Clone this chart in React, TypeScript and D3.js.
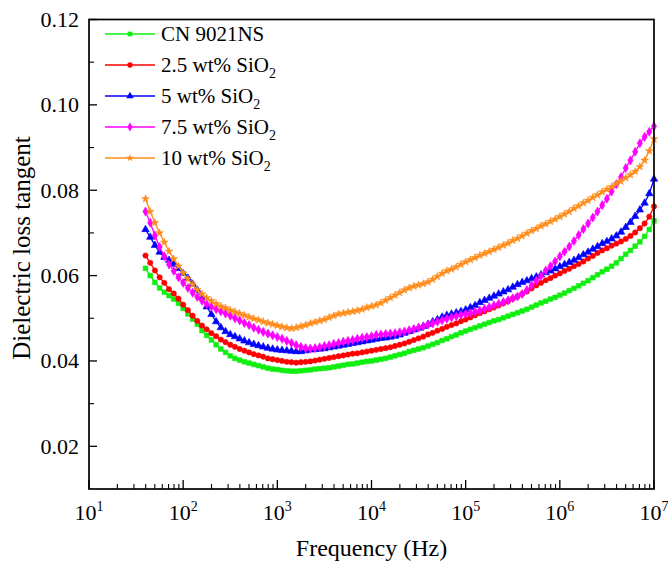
import React from "react";
import * as d3 from "d3";

const logFreq = [
  1.6, 1.65, 1.7, 1.75, 1.8, 1.85, 1.9, 1.95, 2.0, 2.05, 2.1, 2.15, 2.2, 2.25, 2.3, 2.35, 2.4, 2.45, 2.5, 2.55,
  2.6, 2.65, 2.7, 2.75, 2.8, 2.85, 2.9, 2.95, 3.0, 3.05, 3.1, 3.15, 3.2, 3.25, 3.3, 3.35, 3.4, 3.45, 3.5, 3.55,
  3.6, 3.65, 3.7, 3.75, 3.8, 3.85, 3.9, 3.95, 4.0, 4.05, 4.1, 4.15, 4.2, 4.25, 4.3, 4.35, 4.4, 4.45, 4.5, 4.55,
  4.6, 4.65, 4.7, 4.75, 4.8, 4.85, 4.9, 4.95, 5.0, 5.05, 5.1, 5.15, 5.2, 5.25, 5.3, 5.35, 5.4, 5.45, 5.5, 5.55,
  5.6, 5.65, 5.7, 5.75, 5.8, 5.85, 5.9, 5.95, 6.0, 6.05, 6.1, 6.15, 6.2, 6.25, 6.3, 6.35, 6.4, 6.45, 6.5, 6.55,
  6.6, 6.65, 6.7, 6.75, 6.8, 6.85, 6.9, 6.95, 7.0,
];

const cn9021 = [
  0.0617, 0.0600, 0.0584, 0.0571, 0.0561, 0.0553, 0.0545, 0.0535, 0.0523, 0.0510, 0.0498, 0.0486, 0.0471, 0.0460, 0.0449, 0.0438, 0.0428, 0.0420, 0.0412, 0.0406,
  0.0402, 0.0398, 0.0395, 0.0392, 0.0389, 0.0386, 0.0383, 0.0381, 0.0380, 0.0378, 0.0377, 0.0376, 0.0376, 0.0377, 0.0378, 0.0379, 0.0381, 0.0382, 0.0383, 0.0384,
  0.0386, 0.0388, 0.0390, 0.0392, 0.0393, 0.0395, 0.0397, 0.0399, 0.0400, 0.0402, 0.0404, 0.0406, 0.0409, 0.0412, 0.0415, 0.0418, 0.0422, 0.0425, 0.0428, 0.0431,
  0.0435, 0.0439, 0.0443, 0.0448, 0.0452, 0.0457, 0.0461, 0.0466, 0.0470, 0.0474, 0.0478, 0.0482, 0.0486, 0.0490, 0.0494, 0.0497, 0.0501, 0.0505, 0.0509, 0.0513,
  0.0517, 0.0521, 0.0526, 0.0531, 0.0536, 0.0540, 0.0545, 0.0549, 0.0554, 0.0559, 0.0565, 0.0570, 0.0576, 0.0582, 0.0588, 0.0595, 0.0602, 0.0609, 0.0615, 0.0622,
  0.0630, 0.0640, 0.0650, 0.0659, 0.0669, 0.0679, 0.0692, 0.0708, 0.0728,
];

const sio2_25 = [
  0.0647, 0.0630, 0.0612, 0.0596, 0.0583, 0.0568, 0.0558, 0.0546, 0.0532, 0.0519, 0.0506, 0.0494, 0.0483, 0.0474, 0.0465, 0.0458, 0.0450, 0.0444, 0.0438, 0.0433,
  0.0428, 0.0424, 0.0420, 0.0416, 0.0413, 0.0410, 0.0406, 0.0404, 0.0402, 0.0400, 0.0398, 0.0397, 0.0396, 0.0397, 0.0398, 0.0399, 0.0401, 0.0403, 0.0405, 0.0407,
  0.0409, 0.0411, 0.0413, 0.0415, 0.0417, 0.0418, 0.0420, 0.0422, 0.0424, 0.0426, 0.0428, 0.0430, 0.0432, 0.0435, 0.0438, 0.0441, 0.0445, 0.0449, 0.0453, 0.0457,
  0.0462, 0.0466, 0.0471, 0.0475, 0.0480, 0.0484, 0.0488, 0.0493, 0.0497, 0.0502, 0.0507, 0.0512, 0.0516, 0.0521, 0.0525, 0.0530, 0.0535, 0.0540, 0.0546, 0.0551,
  0.0557, 0.0563, 0.0570, 0.0577, 0.0583, 0.0589, 0.0594, 0.0600, 0.0605, 0.0611, 0.0616, 0.0622, 0.0627, 0.0633, 0.0640, 0.0646, 0.0653, 0.0659, 0.0664, 0.0670,
  0.0675, 0.0680, 0.0686, 0.0693, 0.0701, 0.0711, 0.0722, 0.0738, 0.0762,
];

const sio2_5 = [
  0.0708, 0.0690, 0.0671, 0.0655, 0.0643, 0.0636, 0.0627, 0.0617, 0.0605, 0.0594, 0.0580, 0.0566, 0.0549, 0.0527, 0.0509, 0.0492, 0.0478, 0.0469, 0.0462, 0.0457,
  0.0452, 0.0447, 0.0443, 0.0439, 0.0436, 0.0433, 0.0430, 0.0428, 0.0426, 0.0425, 0.0424, 0.0423, 0.0422, 0.0422, 0.0424, 0.0426, 0.0427, 0.0428, 0.0429, 0.0431,
  0.0433, 0.0435, 0.0437, 0.0439, 0.0441, 0.0443, 0.0445, 0.0447, 0.0449, 0.0451, 0.0453, 0.0454, 0.0456, 0.0458, 0.0461, 0.0465, 0.0469, 0.0473, 0.0477, 0.0481,
  0.0486, 0.0492, 0.0497, 0.0503, 0.0507, 0.0510, 0.0513, 0.0516, 0.0520, 0.0525, 0.0530, 0.0537, 0.0542, 0.0547, 0.0552, 0.0557, 0.0562, 0.0567, 0.0573, 0.0579,
  0.0584, 0.0588, 0.0593, 0.0597, 0.0602, 0.0607, 0.0611, 0.0616, 0.0621, 0.0626, 0.0631, 0.0636, 0.0642, 0.0649, 0.0655, 0.0662, 0.0668, 0.0675, 0.0680, 0.0686,
  0.0693, 0.0702, 0.0713, 0.0725, 0.0739, 0.0754, 0.0770, 0.0792, 0.0826,
];

const sio2_75 = [
  0.0750, 0.0724, 0.0694, 0.0667, 0.0645, 0.0626, 0.0611, 0.0596, 0.0583, 0.0571, 0.0560, 0.0550, 0.0541, 0.0533, 0.0527, 0.0521, 0.0516, 0.0511, 0.0506, 0.0500,
  0.0495, 0.0489, 0.0484, 0.0478, 0.0473, 0.0468, 0.0464, 0.0460, 0.0456, 0.0452, 0.0447, 0.0442, 0.0437, 0.0433, 0.0430, 0.0429, 0.0430, 0.0432, 0.0435, 0.0437,
  0.0440, 0.0442, 0.0445, 0.0447, 0.0449, 0.0452, 0.0454, 0.0456, 0.0458, 0.0461, 0.0462, 0.0463, 0.0464, 0.0465, 0.0467, 0.0469, 0.0472, 0.0475, 0.0478, 0.0481,
  0.0485, 0.0488, 0.0492, 0.0495, 0.0499, 0.0502, 0.0505, 0.0508, 0.0510, 0.0512, 0.0515, 0.0518, 0.0522, 0.0526, 0.0530, 0.0534, 0.0538, 0.0542, 0.0547, 0.0551,
  0.0557, 0.0566, 0.0577, 0.0588, 0.0599, 0.0612, 0.0622, 0.0633, 0.0645, 0.0656, 0.0668, 0.0681, 0.0695, 0.0709, 0.0722, 0.0736, 0.0750, 0.0765, 0.0780, 0.0797,
  0.0814, 0.0831, 0.0852, 0.0870, 0.0890, 0.0910, 0.0925, 0.0937, 0.0950,
];

const sio2_10 = [
  0.0780, 0.0750, 0.0724, 0.0700, 0.0678, 0.0657, 0.0639, 0.0622, 0.0606, 0.0592, 0.0579, 0.0567, 0.0557, 0.0548, 0.0541, 0.0534, 0.0528, 0.0524, 0.0519, 0.0515,
  0.0511, 0.0507, 0.0503, 0.0499, 0.0496, 0.0492, 0.0489, 0.0486, 0.0483, 0.0480, 0.0478, 0.0476, 0.0478, 0.0481, 0.0484, 0.0488, 0.0491, 0.0494, 0.0497, 0.0502,
  0.0506, 0.0510, 0.0512, 0.0514, 0.0516, 0.0518, 0.0521, 0.0525, 0.0528, 0.0531, 0.0536, 0.0542, 0.0548, 0.0554, 0.0560, 0.0566, 0.0571, 0.0575, 0.0578, 0.0581,
  0.0585, 0.0591, 0.0598, 0.0605, 0.0611, 0.0615, 0.0620, 0.0626, 0.0632, 0.0637, 0.0642, 0.0647, 0.0652, 0.0656, 0.0661, 0.0666, 0.0671, 0.0676, 0.0682, 0.0687,
  0.0693, 0.0699, 0.0705, 0.0710, 0.0716, 0.0721, 0.0727, 0.0732, 0.0738, 0.0744, 0.0750, 0.0757, 0.0763, 0.0770, 0.0776, 0.0783, 0.0789, 0.0796, 0.0802, 0.0808,
  0.0815, 0.0821, 0.0829, 0.0836, 0.0844, 0.0855, 0.0870, 0.0892, 0.0920,
];

const seriesNames = ["CN 9021NS", "2.5 wt% SiO", "5 wt% SiO", "7.5 wt% SiO", "10 wt% SiO"];
const seriesSub = ["", "2", "2", "2", "2"];
const seriesColors = ["#10ee10", "#ff0000", "#0000ff", "#ff00ff", "#ff8c1a"];
const seriesValues = [cn9021, sio2_25, sio2_5, sio2_75, sio2_10];
const seriesSymbols = [d3.symbolSquare, d3.symbolCircle, d3.symbolTriangle, d3.symbolDiamond, d3.symbolStar];
const seriesSymbolSize = [22, 22, 24, 24, 18];

const yTicks = [0.02, 0.04, 0.06, 0.08, 0.1, 0.12];
const yTickLabels = ["0.02", "0.04", "0.06", "0.08", "0.10", "0.12"];
const xDecades = [1, 2, 3, 4, 5, 6, 7];

const W = 668;
const H = 561;
const M = { left: 89, right: 654, top: 19.5, bottom: 489 };
const FONT = "Liberation Serif, Times New Roman, DejaVu Serif, serif";
const TS = { fontFamily: FONT };

export default function App() {
  const x = d3.scaleLog().domain([10, 1e7]).range([M.left, M.right]);
  const y = d3.scaleLinear().domain([0.01, 0.12]).range([M.bottom, M.top]);

  const line = d3
    .line<[number, number]>()
    .x((d) => x(d[0]))
    .y((d) => y(d[1]));

  const minorX: number[] = [];
  for (let e = 1; e < 7; e++) {
    for (let k = 2; k <= 9; k++) minorX.push(k * Math.pow(10, e));
  }
  const minorY = d3.range(0.03, 0.12, 0.02);

  const freqs = logFreq.map((l) => Math.pow(10, l));

  return (
    <svg
      width={W}
      height={H}
      style={{ position: "absolute", left: 0, top: 0, background: "#fff", fontFamily: FONT }}
    >
      <rect x={0} y={0} width={W} height={H} fill="#fff" />
      {seriesValues.map((vals, si) => {
        const pts: [number, number][] = vals.map((v, i) => [freqs[i], v]);
        const sym = d3.symbol().type(seriesSymbols[si]).size(seriesSymbolSize[si]);
        const p = sym() as string;
        return (
          <g key={si}>
            <path d={line(pts) as string} fill="none" stroke={seriesColors[si]} strokeWidth={1.3} />
            {pts.map((d, i) => (
              <path
                key={i}
                d={p}
                transform={`translate(${x(d[0])},${y(d[1])})`}
                fill={seriesColors[si]}
                stroke={seriesColors[si]}
                strokeWidth={0.6}
              />
            ))}
          </g>
        );
      })}

      <rect
        x={M.left}
        y={M.top}
        width={M.right - M.left}
        height={M.bottom - M.top}
        fill="none"
        stroke="#000"
        strokeWidth={1.7}
      />

      {xDecades.map((e) => {
        const xv = x(Math.pow(10, e));
        return <line key={"xm" + e} x1={xv} x2={xv} y1={M.bottom} y2={M.bottom - 9} stroke="#000" strokeWidth={1.3} />;
      })}
      {minorX.map((v, i) => (
        <line key={"xn" + i} x1={x(v)} x2={x(v)} y1={M.bottom} y2={M.bottom - 5} stroke="#000" strokeWidth={1.1} />
      ))}
      {xDecades.map((e) => (
        <text key={"xl" + e} x={x(Math.pow(10, e))} y={520} textAnchor="middle" fontSize={22} fill="#000" style={TS}>
          10
          <tspan fontSize={14} dy={-9}>
            {e}
          </tspan>
        </text>
      ))}

      {yTicks.map((v, i) => (
        <g key={"y" + i}>
          <line x1={M.left} x2={M.left + 8} y1={y(v)} y2={y(v)} stroke="#000" strokeWidth={1.3} />
          <text x={79} y={y(v) + 7.5} textAnchor="end" fontSize={22} fill="#000" style={TS}>
            {yTickLabels[i]}
          </text>
        </g>
      ))}
      {minorY.map((v, i) => (
        <line key={"yn" + i} x1={M.left} x2={M.left + 5} y1={y(v)} y2={y(v)} stroke="#000" strokeWidth={1.1} />
      ))}

      <text x={(M.left + M.right) / 2} y={556} textAnchor="middle" fontSize={24} fill="#000" style={TS}>
        Frequency (Hz)
      </text>
      <text
        transform={`translate(30,248) rotate(-90)`}
        textAnchor="middle"
        fontSize={25}
        fill="#000"
        style={TS}
      >
        Dielectric loss tangent
      </text>

      {seriesNames.map((name, i) => {
        const ly = 34 + i * 31;
        const sym = d3.symbol().type(seriesSymbols[i]).size(seriesSymbolSize[i]);
        return (
          <g key={"lg" + i}>
            <line x1={105} x2={155} y1={ly} y2={ly} stroke={seriesColors[i]} strokeWidth={1.3} />
            <path d={sym() as string} transform={`translate(130,${ly})`} fill={seriesColors[i]} />
            <text x={161} y={ly + 7} fontSize={21} fill="#000" style={TS}>
              {name}
              {seriesSub[i] ? (
                <tspan fontSize={14} dy={6}>
                  {seriesSub[i]}
                </tspan>
              ) : null}
            </text>
          </g>
        );
      })}
    </svg>
  );
}
